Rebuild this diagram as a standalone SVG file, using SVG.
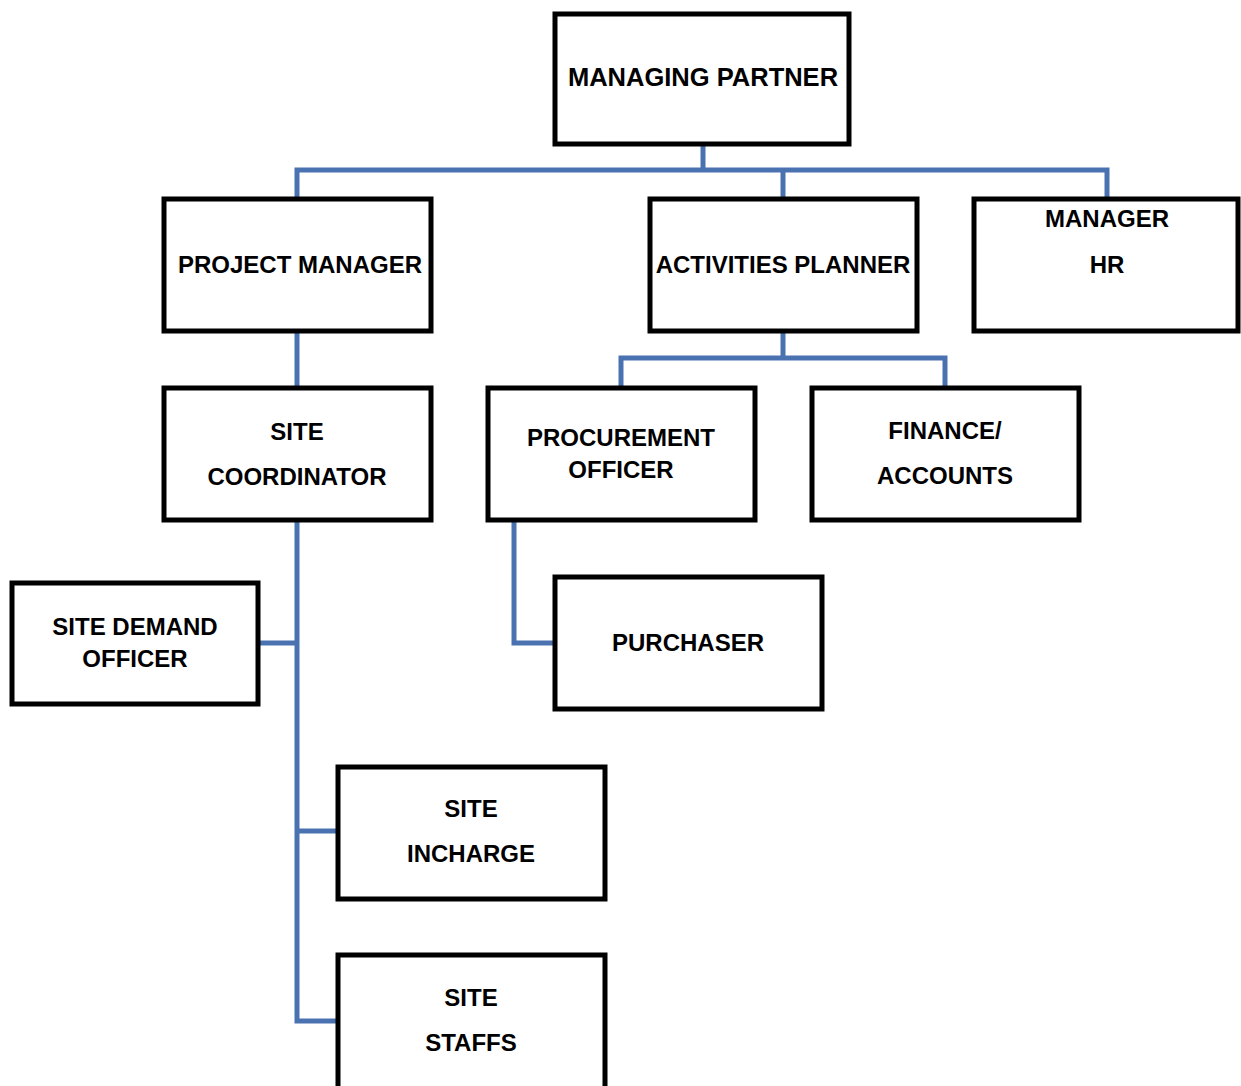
<svg xmlns="http://www.w3.org/2000/svg" width="1241" height="1086" viewBox="0 0 1241 1086">
<style>
.box{fill:#fff;stroke:#000;stroke-width:5}
.lbl{font-family:"Liberation Sans",Arial,sans-serif;font-weight:bold;font-size:24px;fill:#000;text-anchor:middle}
.con{fill:none;stroke:#4a72b0;stroke-width:5}
</style>
<rect width="1241" height="1086" fill="#fff"/>
<g id="connectors">
<path class="con" d="M703 145V170M297 197V170H1107V197M783 170V197"/>
<path class="con" d="M297 332V386"/>
<path class="con" d="M783 332V358M621 386V358H945V386"/>
<path class="con" d="M297 521V1021H336M259 643H297M297 831H336"/>
<path class="con" d="M514 521V643H553"/>
</g>
<g id="managing-partner"><rect class="box" x="555" y="14" width="294" height="130"/><text class="lbl" x="703" y="86" style="font-size:25.5px">MANAGING PARTNER</text></g>
<g id="project-manager"><rect class="box" x="164" y="199" width="267" height="132"/><text class="lbl" x="300" y="273">PROJECT MANAGER</text></g>
<g id="activities-planner"><rect class="box" x="650" y="199" width="267" height="132"/><text class="lbl" x="783" y="273">ACTIVITIES PLANNER</text></g>
<g id="manager-hr"><rect class="box" x="974" y="199" width="264" height="132"/><text class="lbl" x="1107" y="227">MANAGER</text><text class="lbl" x="1107" y="273">HR</text></g>
<g id="site-coordinator"><rect class="box" x="164" y="388" width="267" height="132"/><text class="lbl" x="297" y="440">SITE</text><text class="lbl" x="297" y="485">COORDINATOR</text></g>
<g id="procurement-officer"><rect class="box" x="488" y="388" width="267" height="132"/><text class="lbl" x="621" y="446">PROCUREMENT</text><text class="lbl" x="621" y="478">OFFICER</text></g>
<g id="finance-accounts"><rect class="box" x="812" y="388" width="267" height="132"/><text class="lbl" x="945" y="439">FINANCE/</text><text class="lbl" x="945" y="484">ACCOUNTS</text></g>
<g id="site-demand-officer"><rect class="box" x="12" y="583" width="246" height="121"/><text class="lbl" x="135" y="635">SITE DEMAND</text><text class="lbl" x="135" y="667">OFFICER</text></g>
<g id="purchaser"><rect class="box" x="555" y="577" width="267" height="132"/><text class="lbl" x="688" y="651">PURCHASER</text></g>
<g id="site-incharge"><rect class="box" x="338" y="767" width="267" height="132"/><text class="lbl" x="471" y="817">SITE</text><text class="lbl" x="471" y="862">INCHARGE</text></g>
<g id="site-staffs"><rect class="box" x="338" y="955" width="267" height="140"/><text class="lbl" x="471" y="1006">SITE</text><text class="lbl" x="471" y="1051">STAFFS</text></g>
</svg>
